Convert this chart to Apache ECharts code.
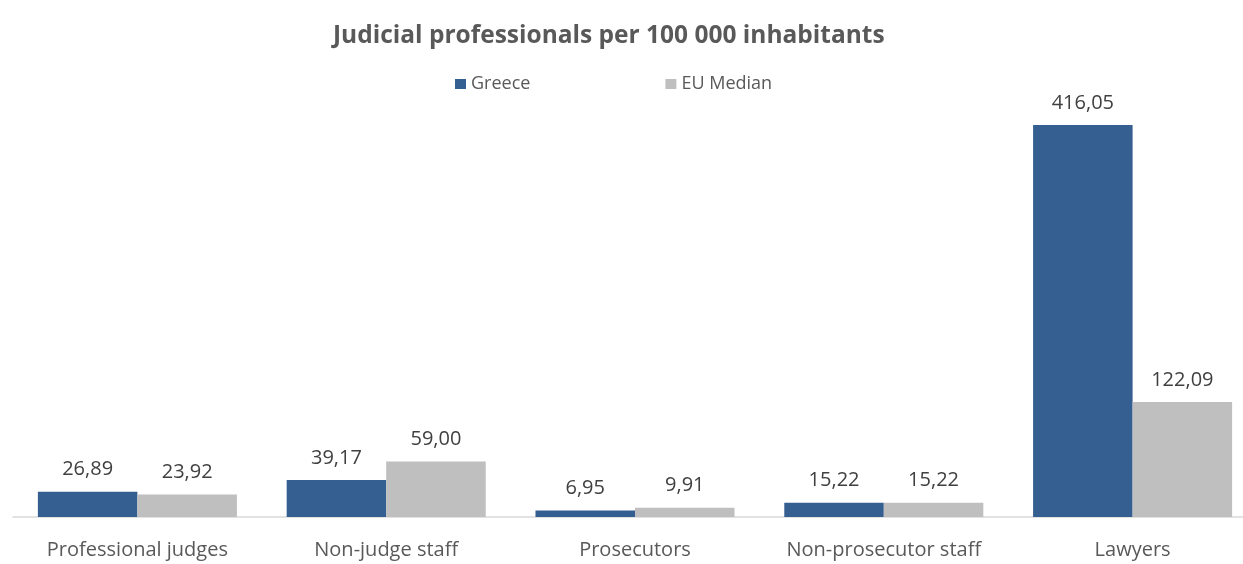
<!DOCTYPE html>
<html><head><meta charset="utf-8">
<script src="https://cdn.jsdelivr.net/npm/echarts@6/dist/echarts.min.js"></script>
<style>html,body{margin:0;padding:0;background:#fff}#c{width:1243px;height:564px}</style>
</head><body><div id="c"></div>
<script>
const categories = ["Professional judges","Non-judge staff","Prosecutors","Non-prosecutor staff","Lawyers"];
const greece = [26.89, 39.17, 6.95, 15.22, 416.05];
const euMedian = [23.92, 59.00, 9.91, 15.22, 122.09];
const seriesNames = ["Greece","EU Median"];
const FONT = "'Open Sans', 'Liberation Sans', sans-serif";
const fmt = p => p.value.toFixed(2).replace('.', ',');
const chart = echarts.init(document.getElementById('c'));
chart.setOption({
  animation:false,
  title:{text:"Judicial professionals per 100 000 inhabitants", left:333, top:24, padding:0,
    textStyle:{fontFamily:FONT, fontSize:24.5, fontWeight:'bold', color:'#595959'}},
  legend:{data:seriesNames, top:75, left:455, padding:0, itemWidth:11, itemHeight:10, itemGap:135,
    textStyle:{fontFamily:FONT, fontSize:18, color:'#595959'}, icon:'rect'},
  grid:{left:13, width:1244, top:93, height:424, containLabel:false, outerBoundsMode:'none'},
  xAxis:{type:'category', data:categories,
    axisLine:{lineStyle:{color:'#D9D9D9', width:1.5}}, axisTick:{show:false},
    axisLabel:{interval:0, fontFamily:FONT, fontSize:20, color:'#595959', margin:23}},
  yAxis:{type:'value', min:0, max:450, show:false, splitLine:{show:false}},
  series:[
    {name:seriesNames[0], type:'bar', data:greece, barGap:'0%', barCategoryGap:'20%',
     itemStyle:{color:'#365F91'},
     label:{show:true, position:'top', distance:12, formatter:fmt, fontFamily:FONT, fontSize:20, color:'#404040'}},
    {name:seriesNames[1], type:'bar', data:euMedian, barGap:'0%', barCategoryGap:'20%',
     itemStyle:{color:'#BFBFBF'},
     label:{show:true, position:'top', distance:12, formatter:fmt, fontFamily:FONT, fontSize:20, color:'#404040'}}
  ]
});
</script></body></html>
